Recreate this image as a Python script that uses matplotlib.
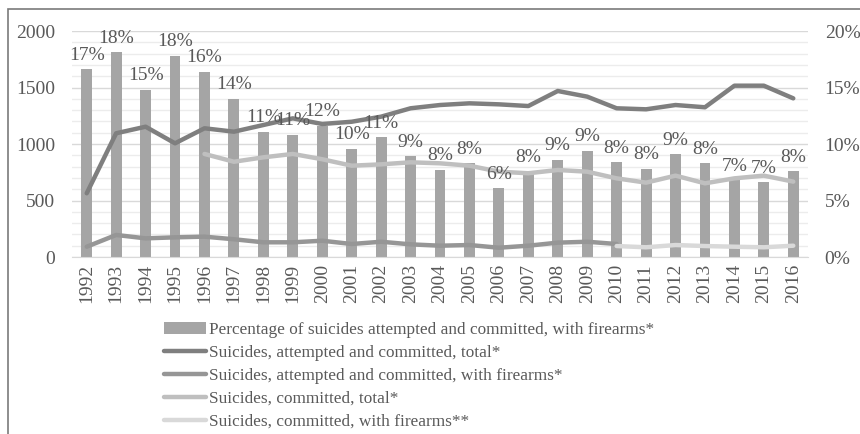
import numpy as np
import matplotlib
matplotlib.use("Agg")
import matplotlib.pyplot as plt
from matplotlib.patches import Rectangle

plt.rcParams['font.family'] = ['Liberation Serif', 'DejaVu Serif']

years = list(range(1992, 2017))

# share of attempted+committed suicides involving firearms (right axis)
pct_firearms = [16.6, 18.1, 14.8, 17.8, 16.4, 14.0, 11.1, 10.8, 11.6, 9.6, 10.6, 8.9, 7.7,
                8.3, 6.1, 7.6, 8.6, 9.4, 8.4, 7.8, 9.1, 8.3, 6.8, 6.6, 7.6]

att_comm_total = [564, 1095, 1153, 1006, 1139, 1109, 1168, 1227, 1177, 1197, 1242, 1316, 1345,
                  1360, 1351, 1336, 1469, 1419, 1316, 1307, 1345, 1325, 1516, 1516, 1404]

att_comm_firearms = [91, 195, 165, 174, 180, 157, 130, 130, 144, 115, 135, 112, 100,
                     106, 82, 100, 127, 135, 115]  # 1992-2010

comm_total = [912, 843, 882, 912, 865, 808, 820, 838, 829, 808, 755, 741, 770, 755,
              696, 658, 720, 652, 696, 720, 667]  # 1996-2016

comm_firearms = [97, 86, 106, 97, 91, 86, 100]  # 2010-2016

labels = ['Percentage of suicides attempted and committed, with firearms*',
          'Suicides, attempted and committed, total*',
          'Suicides, attempted and committed, with firearms*',
          'Suicides, committed, total*',
          'Suicides, committed, with firearms**']

txt = '#595959'
fig = plt.figure(figsize=(8.6, 4.34), dpi=100)
ax2 = fig.add_axes([72/860, 1-257/434, (808-72)/860, (257-31)/434])
ax = ax2.twinx()
ax2.yaxis.tick_right()
ax.yaxis.tick_left()
ax.set_zorder(ax2.get_zorder() + 1)
ax.patch.set_visible(False)

x = np.arange(len(years))

# bars on the percentage axis
bars = ax2.bar(x, pct_firearms, width=0.37, color='#a5a5a5', zorder=2, label=labels[0])
ax2.set_ylim(0, 20)
ax2.set_yticks([0, 5, 10, 15, 20])
ax2.set_yticklabels([f'{t}%' for t in [0, 5, 10, 15, 20]])
ax2.set_yticks(np.arange(0, 21, 1), minor=True)
ax2.grid(True, which='major', axis='y', color='#d9d9d9', lw=1, zorder=0)
ax2.grid(True, which='minor', axis='y', color='#ececec', lw=1, zorder=0)
ax2.set_axisbelow(True)

lw = 3.2
l1, = ax.plot(x, att_comm_total, color='#7f7f7f', lw=lw, solid_capstyle='round', label=labels[1])
l2, = ax.plot(x[:len(att_comm_firearms)], att_comm_firearms, color='#969696', lw=lw,
              solid_capstyle='round', label=labels[2])
l3, = ax.plot(x[4:], comm_total, color='#bfbfbf', lw=lw, solid_capstyle='round', label=labels[3])
l4, = ax.plot(x[18:], comm_firearms, color='#d9d9d9', lw=lw, solid_capstyle='round', label=labels[4])
ax.set_ylim(0, 2000)
ax.set_yticks([0, 500, 1000, 1500, 2000])

for xi, v in zip(x, pct_firearms):
    ax.annotate(f'{round(v):d}%', xy=(xi, v * 100), xytext=(0, 4), textcoords='offset points',
                ha='center', va='bottom', fontsize=14, color=txt, zorder=5)

ax.set_xlim(-0.5, len(years) - 0.5)
ax2.set_xticks(x)
ax2.set_xticklabels([str(y) for y in years], rotation=90, fontsize=14, color=txt)
for a in (ax, ax2):
    for s in a.spines.values():
        s.set_visible(False)
    a.tick_params(which='both', length=0, labelsize=14, colors=txt)
ax2.spines['bottom'].set_visible(True)
ax2.spines['bottom'].set_color('#d9d9d9')
ax.tick_params(axis='y', pad=12)
ax2.tick_params(axis='y', pad=12)
ax2.tick_params(axis='x', pad=5)

fig.legend([bars, l1, l2, l3, l4], labels, loc='upper left', bbox_to_anchor=(157/860, 1-315/434),
           frameon=False, fontsize=12.4, labelcolor=txt, handlelength=2.45, handletextpad=0.17,
           labelspacing=0.4, borderaxespad=0)

fig.patches.append(Rectangle((8/860, -0.1), 1.0, 1 - 9/434 + 0.1, transform=fig.transFigure,
                             fill=False, edgecolor='#7a7a7a', lw=1.2))

fig.savefig('out.png', dpi=100)
